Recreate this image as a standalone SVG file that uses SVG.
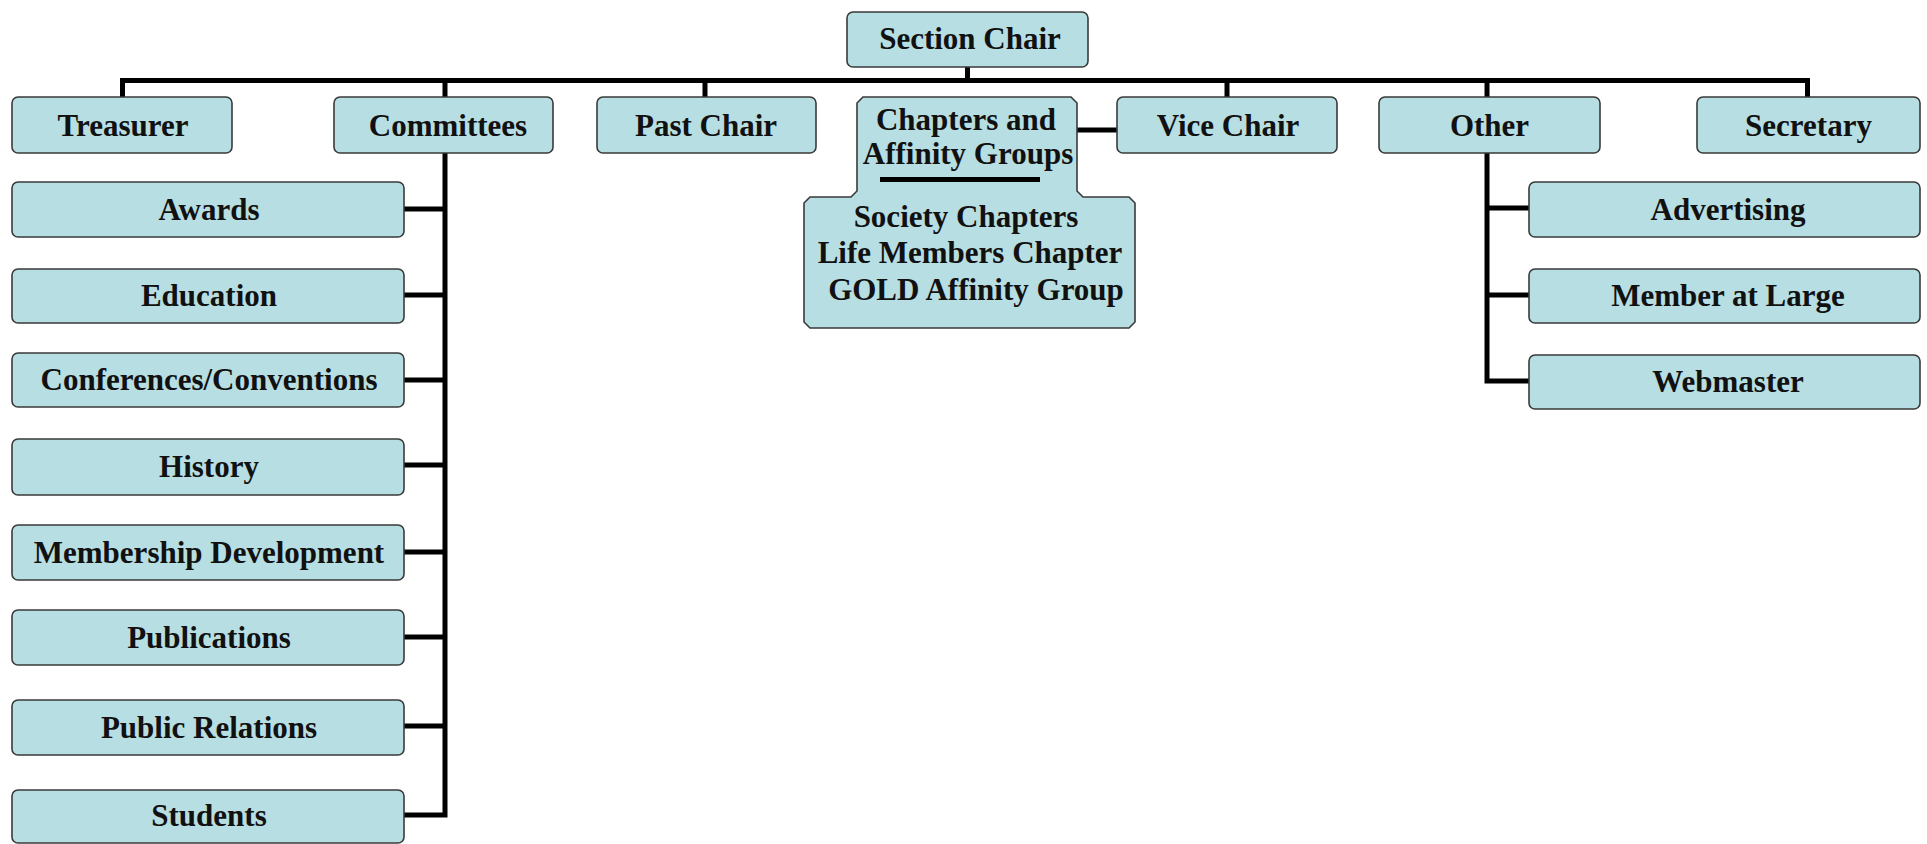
<svg xmlns="http://www.w3.org/2000/svg" width="1927" height="844" viewBox="0 0 1927 844">
<style>
.box{fill:#b7dee2;stroke:#3a3a3a;stroke-width:1.6}
.t{font-family:"Liberation Serif","Times New Roman",serif;font-weight:bold;font-size:31px;fill:#111;text-anchor:middle}
.c{fill:none;stroke:#000;stroke-width:5}
</style>
<rect width="1927" height="844" fill="#fff"/>
<g id="connectors">
<path class="c" d="M967.5,67 V81 M120,80.5 H1810 M122.5,80.5 V97 M445,80.5 V97 M705,80.5 V97 M1227,80.5 V97 M1487,80.5 V97 M1807.5,80.5 V97"/>
<path class="c" d="M445,153 V817.5 M404,209 H447 M404,295 H447 M404,380 H447 M404,465 H447 M404,552 H447 M404,637 H447 M404,726 H447 M404,815 H447"/>
<path class="c" d="M1487,153 V383.5 M1485,208 H1529 M1485,295 H1529 M1485,381 H1529"/>
<path class="c" d="M1077,130 H1117"/>
</g>
<g id="section-chair"><rect class="box" x="847" y="12" width="241" height="55" rx="6"/><text class="t" x="970" y="49">Section Chair</text></g>
<g id="treasurer"><rect class="box" x="12" y="97" width="220" height="56" rx="6"/><text class="t" x="123" y="136">Treasurer</text></g>
<g id="committees"><rect class="box" x="334" y="97" width="219" height="56" rx="6"/><text class="t" x="448" y="136">Committees</text></g>
<g id="past-chair"><rect class="box" x="597" y="97" width="219" height="56" rx="6"/><text class="t" x="706" y="136">Past Chair</text></g>
<g id="chapters">
<path class="box" d="M863,97 H1071 L1077,103 V191 L1083,197 H1129 L1135,203 V322 L1129,328 H810 L804,322 V203 L810,197 H851 L857,191 V103 Z"/>
<text class="t" x="966" y="130">Chapters and</text>
<text class="t" x="968" y="164">Affinity Groups</text>
<rect x="880" y="177" width="160" height="5" fill="#000"/>
<text class="t" x="966" y="227">Society Chapters</text>
<text class="t" x="970" y="263">Life Members Chapter</text>
<text class="t" x="976" y="300">GOLD Affinity Group</text>
</g>
<g id="vice-chair"><rect class="box" x="1117" y="97" width="220" height="56" rx="6"/><text class="t" x="1228" y="136">Vice Chair</text></g>
<g id="other"><rect class="box" x="1379" y="97" width="221" height="56" rx="6"/><text class="t" x="1489.5" y="136">Other</text></g>
<g id="secretary"><rect class="box" x="1697" y="97" width="223" height="56" rx="6"/><text class="t" x="1808.5" y="136">Secretary</text></g>
<g id="awards"><rect class="box" x="12" y="182" width="392" height="55" rx="6"/><text class="t" x="209" y="219.5">Awards</text></g>
<g id="education"><rect class="box" x="12" y="269" width="392" height="54" rx="6"/><text class="t" x="209" y="306">Education</text></g>
<g id="conferences"><rect class="box" x="12" y="353" width="392" height="54" rx="6"/><text class="t" x="209" y="390">Conferences/Conventions</text></g>
<g id="history"><rect class="box" x="12" y="439" width="392" height="56" rx="6"/><text class="t" x="209" y="477">History</text></g>
<g id="membership"><rect class="box" x="12" y="525" width="392" height="55" rx="6"/><text class="t" x="209" y="562.5">Membership Development</text></g>
<g id="publications"><rect class="box" x="12" y="610" width="392" height="55" rx="6"/><text class="t" x="209" y="647.5">Publications</text></g>
<g id="public-relations"><rect class="box" x="12" y="700" width="392" height="55" rx="6"/><text class="t" x="209" y="737.5">Public Relations</text></g>
<g id="students"><rect class="box" x="12" y="790" width="392" height="53" rx="6"/><text class="t" x="209" y="826">Students</text></g>
<g id="advertising"><rect class="box" x="1529" y="182" width="391" height="55" rx="6"/><text class="t" x="1728" y="219.5">Advertising</text></g>
<g id="member-at-large"><rect class="box" x="1529" y="269" width="391" height="54" rx="6"/><text class="t" x="1728" y="306">Member at Large</text></g>
<g id="webmaster"><rect class="box" x="1529" y="355" width="391" height="54" rx="6"/><text class="t" x="1728" y="392">Webmaster</text></g>
</svg>
